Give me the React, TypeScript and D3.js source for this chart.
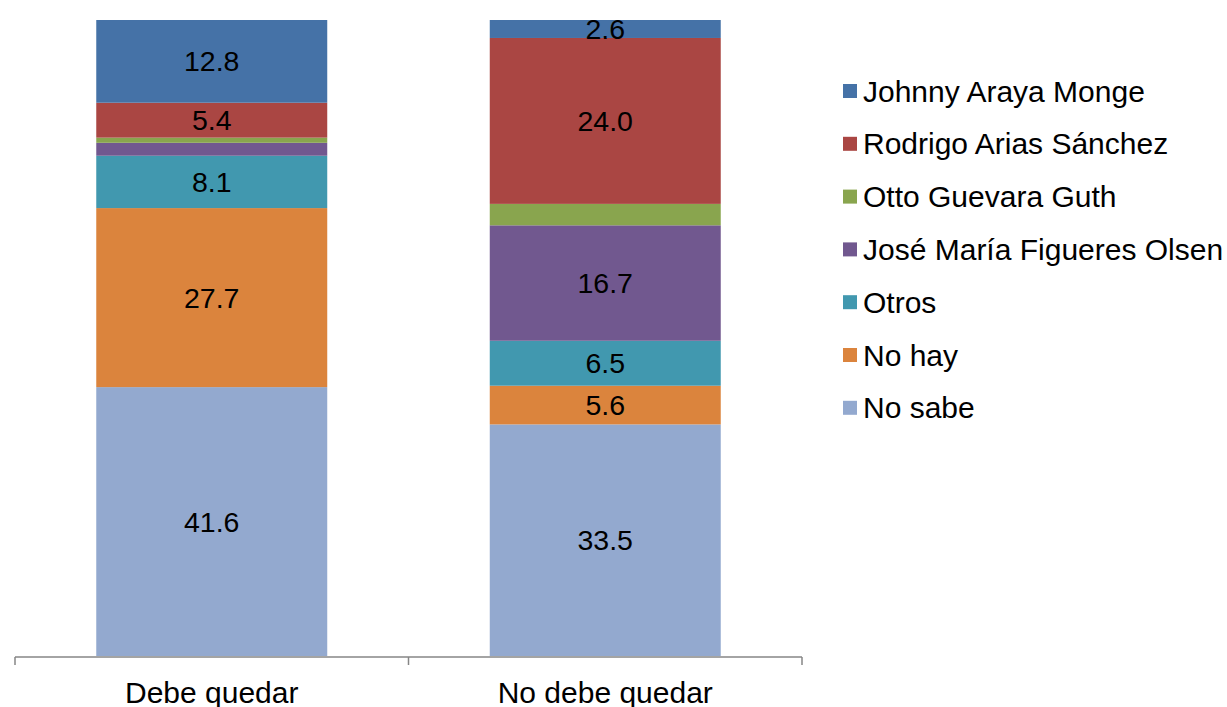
import React from "react";
import * as d3 from "d3";

const categories = ["Debe quedar", "No debe quedar"];
const seriesNames = [
  "Johnny Araya Monge",
  "Rodrigo Arias Sánchez",
  "Otto Guevara Guth",
  "José María Figueres Olsen",
  "Otros",
  "No hay",
  "No sabe",
];
// values per series, [Debe quedar, No debe quedar]
const johnny = [12.8, 2.6];
const rodrigo = [5.4, 24.0];
const otto = [0.8, 3.1];
const jose = [2.0, 16.7];
const otros = [8.1, 6.5];
const noHay = [27.7, 5.6];
const noSabe = [41.6, 33.5];
const hiddenLabels = ["Otto Guevara Guth"];
const colors = ["#4572A7", "#AA4643", "#89A54E", "#71588F", "#4198AF", "#DB843D", "#93A9CF"];

const seriesValues = [johnny, rodrigo, otto, jose, otros, noHay, noSabe];

const W = 1227;
const H = 707;
const FONT = "'Liberation Sans', Arial, sans-serif";

export default function App() {
  const rows = categories.map((c, i) => {
    const r: any = { cat: c };
    seriesNames.forEach((s, j) => (r[s] = seriesValues[j][i]));
    return r;
  });
  const order = [...seriesNames].reverse();
  const stack = d3.stack<any>().keys(order).offset(d3.stackOffsetExpand);
  const layers = stack(rows);

  const x = d3.scaleBand<string>().domain(categories).range([15, 802]).paddingInner(0.413).paddingOuter(0.2065);
  const y = d3.scaleLinear().domain([0, 1]).range([656, 20]);

  const axisY = 657;

  return (
    <svg width={W} height={H} style={{ position: "absolute", left: 0, top: 0, background: "#fff" }} fontFamily={FONT}>
      {layers.map((layer) => {
        const si = seriesNames.indexOf(layer.key);
        return (
          <g key={layer.key}>
            {layer.map((d, i) => (
              <rect
                key={i}
                x={x(categories[i])}
                width={x.bandwidth()}
                y={y(d[1])}
                height={y(d[0]) - y(d[1])}
                fill={colors[si]}
              />
            ))}
          </g>
        );
      })}
      {layers.map((layer) => {
        const si = seriesNames.indexOf(layer.key);
        return (
          <g key={layer.key + "-lab"}>
            {layer.map((d, i) => {
              const v = seriesValues[si][i];
              if (hiddenLabels.includes(layer.key) || v < 2.5) return null;
              return (
                <text
                  key={i}
                  x={(x(categories[i]) as number) + x.bandwidth() / 2}
                  y={(y(d[0]) + y(d[1])) / 2}
                  textAnchor="middle"
                  dominantBaseline="central"
                  fontSize={28.5}
                  fill="#000"
                >
                  {v.toFixed(1)}
                </text>
              );
            })}
          </g>
        );
      })}
      <line x1={15} x2={802} y1={axisY} y2={axisY} stroke="#868686" strokeWidth={1.5} />
      {[0, 1, 2].map((k) => {
        const px = 15 + k * x.step();
        return <line key={k} x1={px} x2={px} y1={axisY} y2={axisY + 8} stroke="#868686" strokeWidth={1.5} />;
      })}
      {categories.map((c) => (
        <text
          key={c}
          x={(x(c) as number) + x.bandwidth() / 2}
          y={692}
          textAnchor="middle"
          dominantBaseline="central"
          fontSize={30}
          fill="#000"
        >
          {c}
        </text>
      ))}
      {seriesNames.map((s, i) => {
        const cy = 91 + i * 52.8;
        return (
          <g key={s}>
            <rect x={843} y={cy - 7} width={14} height={14} fill={colors[i]} />
            <text x={863} y={cy} dominantBaseline="central" fontSize={30} fill="#000">
              {s}
            </text>
          </g>
        );
      })}
    </svg>
  );
}
